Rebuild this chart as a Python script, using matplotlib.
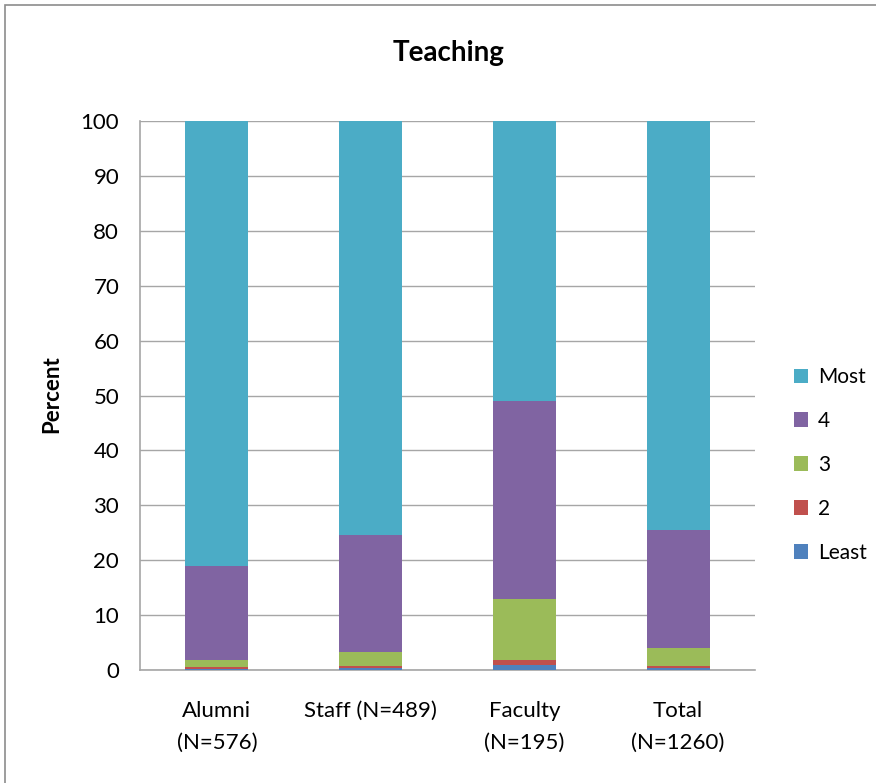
import numpy as np
import matplotlib
matplotlib.use("Agg")
import matplotlib.pyplot as plt
from matplotlib.patches import Rectangle

plt.rcParams['font.family'] = ['Lato', 'DejaVu Sans']

groups = ["Alumni\n(N=576)", "Staff (N=489)", "Faculty\n(N=195)", "Total\n(N=1260)"]
least = [0.2, 0.4, 1.0, 0.4]
two = [0.3, 0.25, 0.9, 0.25]
three = [1.4, 2.7, 11.0, 3.4]
four = [17.0, 21.3, 36.1, 21.45]
most = [81.1, 75.35, 51.0, 74.5]

series = [("Least", least, "#4F81BD"), ("2", two, "#C0504D"), ("3", three, "#9BBB59"),
          ("4", four, "#8064A2"), ("Most", most, "#4BACC6")]

fig = plt.figure(figsize=(8.76, 7.83), dpi=100)
ax = fig.add_axes([140/876, 1-670/783, 615/876, 549/783])

fig.patches.append(Rectangle((5/876, -0.1), 1.2, 1-5/783+0.1, transform=fig.transFigure,
                             fill=False, edgecolor="#8c8c8c", linewidth=1.2))

x = np.arange(len(groups))
bottom = np.zeros(len(groups))
handles = []
for name, vals, col in series:
    b = ax.bar(x, vals, 0.41, bottom=bottom, color=col, label=name, zorder=3)
    handles.append(b)
    bottom += np.array(vals)

ax.set_xlim(-0.5, 3.5)
ax.set_ylim(0, 100)
ax.set_yticks(range(0, 101, 10))
ax.yaxis.grid(True, color="#a6a6a6", linewidth=1)
ax.set_axisbelow(True)
ax.set_xticks(x)
ax.set_xticklabels(groups, fontsize=16, linespacing=1.75)
ax.tick_params(axis='both', length=0, labelsize=16)
ax.tick_params(axis='x', pad=22)
ax.tick_params(axis='y', pad=15)
for s in ["top", "right"]:
    ax.spines[s].set_visible(False)
for s in ["left", "bottom"]:
    ax.spines[s].set_color("#a6a6a6")
    ax.spines[s].set_linewidth(1.2)

fig.text(52/876, 1-394/783, "Percent", fontsize=16, fontweight="bold", rotation=90,
         ha="center", va="center")
fig.text(449/876, 1-53/783, "Teaching", fontsize=20, fontweight="bold", ha="center", va="center")

leg = fig.legend(handles[::-1], [s[0] for s in series][::-1], loc="center left",
                 bbox_to_anchor=(775/876, 1-465/783), frameon=False, fontsize=15,
                 handlelength=0.7, handleheight=0.7, labelspacing=1.15, handletextpad=0.45)

fig.savefig("out.png", dpi=100)
